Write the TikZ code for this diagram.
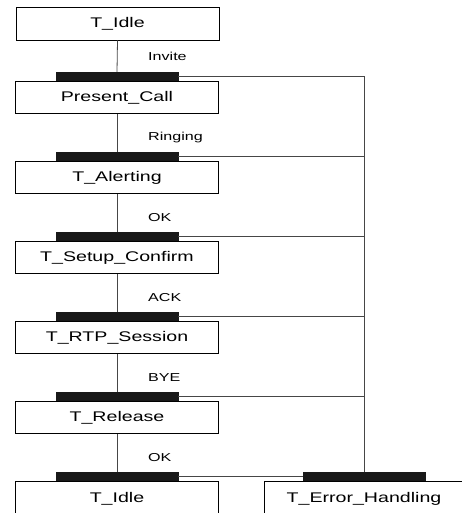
\documentclass[tikz,border=0pt]{standalone}
\usepackage{fontspec}
\setmainfont{Liberation Sans}[FakeStretch=1.4]
\usetikzlibrary{positioning}
\definecolor{cLine}{RGB}{70,70,70}
\definecolor{cBar}{RGB}{25,25,25}
\tikzset{
    statebox/.style={
        rectangle, draw=black, line width=0.8pt, fill=white,
        minimum width=203pt, minimum height=32pt, inner sep=0pt,
        font=\fontsize{14}{16}\selectfont,
    },
    syncbar/.style={
        rectangle, draw=cBar, fill=cBar, inner sep=0pt,
        minimum width=122pt, minimum height=8pt,
    },
    link/.style={draw=cLine, line width=0.8pt},
    evlabel/.style={font=\fontsize{11.5}{13}\selectfont, anchor=base west, inner sep=0pt},
}

\begin{document}
\begin{tikzpicture}[x=1pt, y=-1pt, node distance=1pt]
\useasboundingbox (0,0) rectangle (462,513);
\clip (0,0) rectangle (462,513);

% ============================================================
%  Main chain of states, each entered through a sync bar
% ============================================================
\node[statebox, minimum height=33pt] (idle) at (117.5,23.5) {T\_Idle};

\node[syncbar] (bInvite) at (117,76) {};
\node[statebox, below=of bInvite.south, anchor=north] (call) {Present\_Call};

\node[syncbar] (bRing) at (117,156) {};
\node[statebox, below=of bRing.south, anchor=north] (alert) {T\_Alerting};

\node[syncbar] (bOk) at (117,236) {};
\node[statebox, below=of bOk.south, anchor=north] (setup) {T\_Setup\_Confirm};

\node[syncbar] (bAck) at (117,316) {};
\node[statebox, below=of bAck.south, anchor=north] (rtp) {T\_RTP\_Session};

\node[syncbar] (bBye) at (117,396) {};
\node[statebox, below=of bBye.south, anchor=north] (release) {T\_Release};

\node[syncbar] (bEnd) at (117,476) {};
\node[statebox, below=of bEnd.south, anchor=north,
      minimum height=34pt] (idleEnd) {T\_Idle};

% Error branch on the right
\node[syncbar] (bErr) at (364,476) {};
\node[statebox, below=of bErr.south, anchor=north,
      minimum width=200pt, minimum height=34pt] (error) {T\_Error\_Handling};

% ============================================================
%  Event labels
% ============================================================
\node[evlabel] at (148,61)  {Invite};
\node[evlabel] at (148,141) {Ringing};
\node[evlabel] at (148,221) {OK};
\node[evlabel] at (148,301) {ACK};
\node[evlabel] at (148,381) {BYE};
\node[evlabel] at (148,461) {OK};

% ============================================================
%  Connectors
% ============================================================
\draw[link] (idle.south)    -- (bInvite.north);
\draw[link] (call.south)    -- (bRing.north);
\draw[link] (alert.south)   -- (bOk.north);
\draw[link] (setup.south)   -- (bAck.north);
\draw[link] (rtp.south)     -- (bBye.north);
\draw[link] (release.south) -- (bEnd.north);

% Every bar also feeds the error branch
\coordinate (errTop) at (364,76);
\draw[link] (bInvite.east) -- (errTop) -- (bErr.north);
\draw[link] (bRing.east) -- (bRing.east -| errTop);
\draw[link] (bOk.east)   -- (bOk.east -| errTop);
\draw[link] (bAck.east)  -- (bAck.east -| errTop);
\draw[link] (bBye.east)  -- (bBye.east -| errTop);
\draw[link] (bEnd.east)  -- (bErr.west);

\end{tikzpicture}
\end{document}
